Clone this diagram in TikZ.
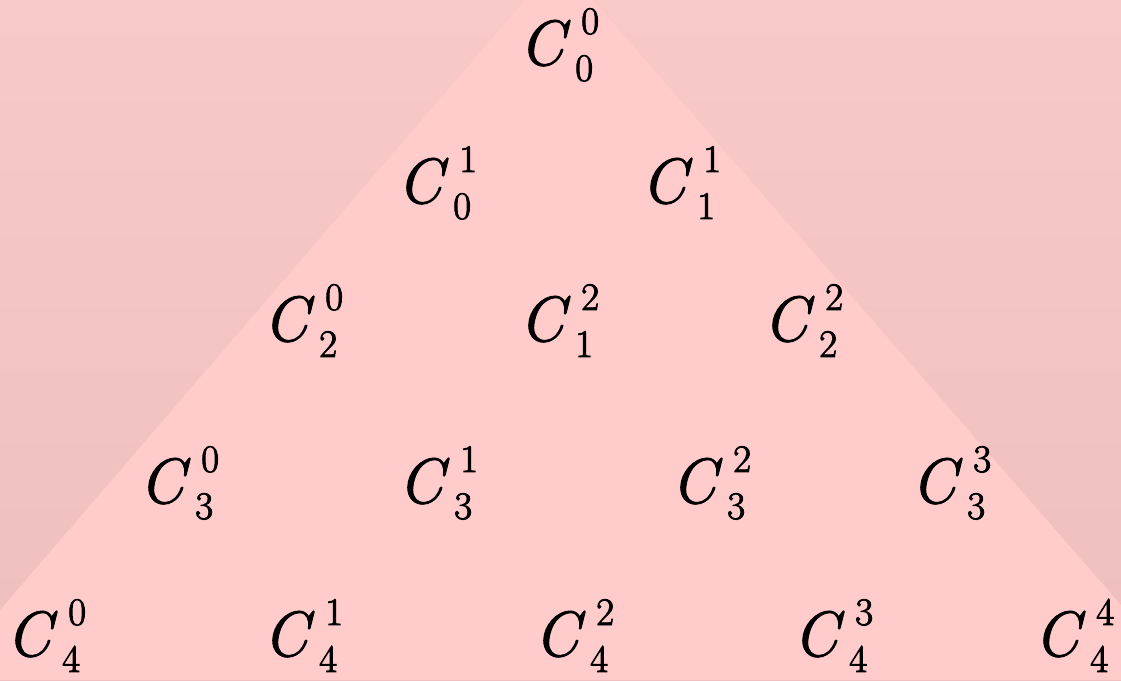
\documentclass[tikz,border=0pt]{standalone}
\usetikzlibrary{positioning}

\definecolor{bgtop}{RGB}{249,200,201}
\definecolor{bgbottom}{RGB}{239,190,191}
\definecolor{trifill}{RGB}{255,203,203}

\newcommand{\digitsize}{\fontsize{39}{39}\selectfont}
\newcommand{\heavyon}{\special{pdf:literal direct 0.9 w 2 Tr}}
\newcommand{\heavyoff}{\special{pdf:literal direct 0 Tr}}
\newcommand{\comb}[2]{\heavyon\textit{C}\rlap{\kern11pt\raisebox{31pt}{\digitsize #2}}\kern5pt\raisebox{-16pt}{\digitsize #1}\heavyoff}

\begin{document}
\begin{tikzpicture}[
    x=1pt, y=1pt,
    term/.style={anchor=base west, inner sep=0pt, font=\fontsize{64}{64}\selectfont}
]
\useasboundingbox (0,0) rectangle (1121,680);
\shade[top color=bgtop, bottom color=bgbottom] (0,0) rectangle (1121,680);

% the triangle
\fill[trifill] (525,680) -- (593,680) -- (1121,75) -- (1121,0) -- (0,0) -- (0,70) -- cycle;

% row 0
\node[term] (c00) at (519,615) {\comb{0}{0}};
% row 1
\node[term] (c01) at (397,477) {\comb{0}{1}};
\node[term] (c11) at (641,477) {\comb{1}{1}};
% row 2
\node[term] (c20) at (263,339) {\comb{2}{0}};
\node[term] (c12) at (519,339) {\comb{1}{2}};
\node[term] (c22) at (763,339) {\comb{2}{2}};
% row 3
\node[term] (c30) at (139,177) {\comb{3}{0}};
\node[term] (c31) at (398,177) {\comb{3}{1}};
\node[term] (c32) at (671,177) {\comb{3}{2}};
\node[term] (c33) at (911,177) {\comb{3}{3}};
% row 4
\node[term] (c40) at (6,24) {\comb{4}{0}};
\node[term] (c41) at (263,24) {\comb{4}{1}};
\node[term] (c42) at (534,24) {\comb{4}{2}};
\node[term] (c43) at (793,24) {\comb{4}{3}};
\node[term] (c44) at (1034,24) {\comb{4}{4}};
\end{tikzpicture}
\end{document}
